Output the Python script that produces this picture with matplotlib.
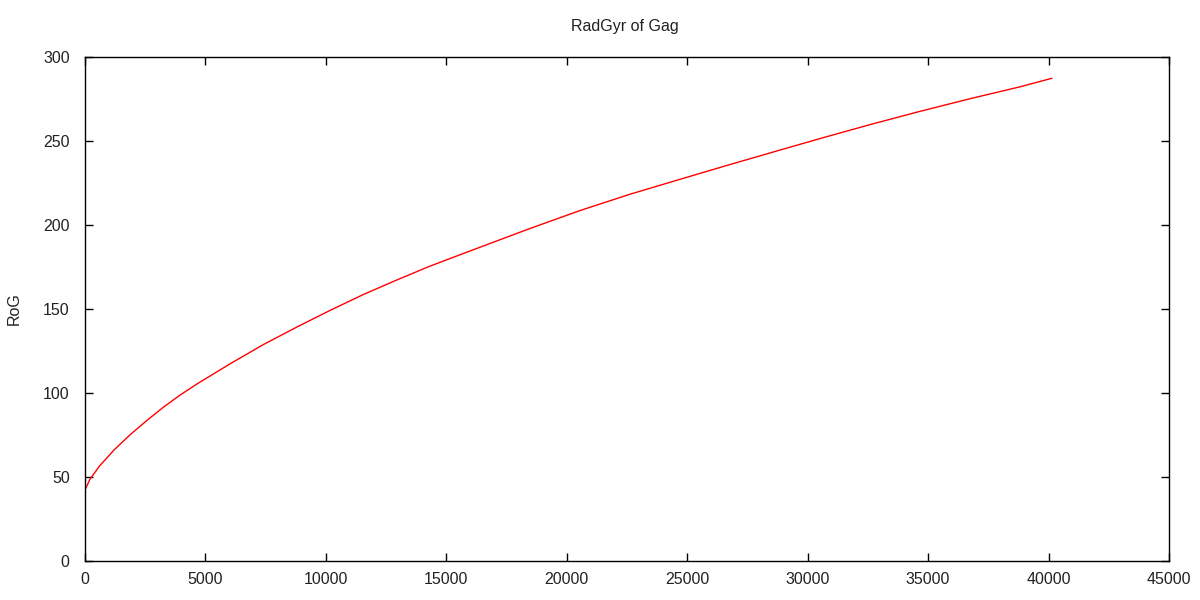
import matplotlib
matplotlib.use('Agg')
import matplotlib.pyplot as plt

# values
steps = [0, 200, 600, 1200, 1900, 2600, 3250, 3950, 4650, 5350, 6050,
         7400, 8800, 10150, 11550, 12950, 14300, 15700, 16700, 18450,
         20550, 22600, 24700, 26800, 28850, 30500, 32600, 34650, 36750,
         38800, 40130]
rog = [42.3, 48.5, 56.5, 66.0, 75.5, 84.0, 91.5, 98.8, 105.4, 111.5, 117.6,
       128.8, 139.3, 149.0, 158.6, 167.3, 175.4, 183.0, 188.4, 197.8,
       208.6, 218.2, 227.2, 236.1, 244.6, 251.4, 259.8, 267.6, 275.2,
       282.2, 287.3]

x_ticks = [0, 5000, 10000, 15000, 20000, 25000, 30000, 35000, 40000, 45000]
y_ticks = [0, 50, 100, 150, 200, 250, 300]

plt.rcParams['font.family'] = 'Liberation Sans'
plt.rcParams['font.size'] = 11.5
plt.rcParams['text.color'] = '#222222'

fig = plt.figure(figsize=(12, 6), dpi=100)
ax = fig.add_axes([85 / 1200, 1 - 561 / 600, (1169 - 85) / 1200, (561 - 57) / 600])

ax.plot(steps, rog, color='#ff0000', linewidth=1.0)

ax.set_xlim(0, 45000)
ax.set_ylim(0, 300)
ax.set_xticks(x_ticks)
ax.set_yticks(y_ticks)
ax.tick_params(direction='in', top=True, right=True, length=6, width=1,
               color='#000000', labelcolor='#222222')
ax.tick_params(axis='y', pad=11)
ax.tick_params(axis='x', pad=8)
for s in ax.spines.values():
    s.set_linewidth(1)

fig.text(625 / 1200, 1 - 27 / 600, 'RadGyr of Gag', ha='center', va='center')
fig.text(14 / 1200, 1 - 309 / 600, 'RoG', ha='center', va='center', rotation=90)

plt.savefig('out.png', dpi=100)
